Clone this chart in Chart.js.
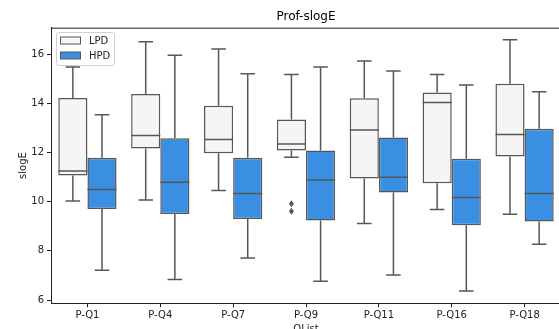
<!DOCTYPE html>
<html>
<head>
<meta charset="utf-8">
<script src="https://cdn.jsdelivr.net/npm/chart.js@4.4.1/dist/chart.umd.min.js"></script>
<style>
  html, body { margin: 0; padding: 0; overflow: hidden; background: #fff; }
  #wrap { position: absolute; left: 0; top: 0; }
</style>
</head>
<body>
<div id="wrap"><canvas id="chart" width="562" height="340"></canvas></div>
<script>
const categories = ["P-Q1", "P-Q4", "P-Q7", "P-Q9", "P-Q11", "P-Q16", "P-Q18"];
const yTicks = [6, 8, 10, 12, 14, 16];

// LPD box stats
const lpdLow = [10.03, 10.07, 10.45, 11.81, 9.11, 9.68, 9.49];
const lpdQ1 = [11.06, 12.16, 11.97, 12.08, 10.94, 10.75, 11.84];
const lpdMed = [11.25, 12.69, 12.53, 12.34, 12.91, 14.03, 12.73];
const lpdQ3 = [14.21, 14.38, 13.90, 13.34, 14.20, 14.44, 14.79];
const lpdHigh = [15.47, 16.50, 16.20, 15.17, 15.72, 15.17, 16.58];
const lpdOut = [[], [], [], [9.92, 9.61], [], [], []];

// HPD box stats
const hpdLow = [7.21, 6.84, 7.71, 6.77, 7.02, 6.37, 8.27];
const hpdQ1 = [9.70, 9.50, 9.30, 9.23, 10.37, 9.04, 9.19];
const hpdMed = [10.49, 10.79, 10.33, 10.88, 10.99, 10.17, 10.33];
const hpdQ3 = [11.78, 12.58, 11.79, 12.08, 12.61, 11.74, 12.96];
const hpdHigh = [13.53, 15.95, 15.20, 15.47, 15.31, 14.74, 14.47];
const hpdOut = [[], [], [], [], [], [], []];

const lineColor = "#575757";
const stats = [
  { low: lpdLow, med: lpdMed, high: lpdHigh, out: lpdOut },
  { low: hpdLow, med: hpdMed, high: hpdHigh, out: hpdOut }
];

Chart.defaults.font.family = "'DejaVu Sans', sans-serif";
Chart.defaults.font.size = 10;
Chart.defaults.color = "#222";

// whiskers, medians, fliers, top spine and legend
const boxPlugin = {
  id: "boxExtras",
  afterDatasetsDraw(chart) {
    const { ctx, chartArea, scales: { y } } = chart;
    ctx.save();
    ctx.strokeStyle = lineColor;
    ctx.fillStyle = lineColor;
    ctx.lineWidth = 1.5;
    stats.forEach((s, di) => {
      const meta = chart.getDatasetMeta(di);
      const range = chart.data.datasets[di].data;
      meta.data.forEach((bar, i) => {
        const x = bar.x;
        const w = bar.width;
        const yq1 = y.getPixelForValue(range[i][0]);
        const yq3 = y.getPixelForValue(range[i][1]);
        const yLow = y.getPixelForValue(s.low[i]);
        const yHigh = y.getPixelForValue(s.high[i]);
        const yMed = y.getPixelForValue(s.med[i]);
        ctx.beginPath();
        ctx.moveTo(x, yq3); ctx.lineTo(x, yHigh);
        ctx.moveTo(x, yq1); ctx.lineTo(x, yLow);
        ctx.moveTo(x - w / 4, yHigh); ctx.lineTo(x + w / 4, yHigh);
        ctx.moveTo(x - w / 4, yLow); ctx.lineTo(x + w / 4, yLow);
        ctx.moveTo(x - w / 2, yMed); ctx.lineTo(x + w / 2, yMed);
        ctx.stroke();
        s.out[i].forEach(v => {
          const py = y.getPixelForValue(v);
          ctx.beginPath();
          ctx.moveTo(x, py - 3.5);
          ctx.lineTo(x + 2.5, py);
          ctx.lineTo(x, py + 3.5);
          ctx.lineTo(x - 2.5, py);
          ctx.closePath();
          ctx.fill();
        });
      });
    });

    // top spine
    ctx.strokeStyle = "#222";
    ctx.lineWidth = 1;
    ctx.beginPath();
    ctx.moveTo(chartArea.left, chartArea.top + 0.5);
    ctx.lineTo(chartArea.right, chartArea.top + 0.5);
    ctx.stroke();

    // legend
    const lx = 56.5, ly = 32.5;
    ctx.fillStyle = "rgba(255,255,255,0.8)";
    ctx.strokeStyle = "#d0d0d0";
    ctx.beginPath();
    ctx.roundRect(lx, ly, 58, 33, 2);
    ctx.fill();
    ctx.stroke();
    chart.data.datasets.forEach((ds, di) => {
      const py = 37 + di * 15;
      ctx.fillStyle = ds.backgroundColor;
      ctx.strokeStyle = lineColor;
      ctx.lineWidth = 1;
      ctx.fillRect(60.5, py, 20, 7);
      ctx.strokeRect(60.5, py, 20, 7);
      ctx.fillStyle = "#222";
      ctx.font = "10px 'DejaVu Sans'";
      ctx.textBaseline = "middle";
      ctx.textAlign = "left";
      ctx.fillText(ds.label, 89, py + 4);
    });
    ctx.restore();
  }
};

new Chart(document.getElementById("chart"), {
  type: "bar",
  data: {
    labels: categories,
    datasets: [
      {
        label: "LPD",
        data: lpdQ1.map((v, i) => [v, lpdQ3[i]]),
        backgroundColor: "#f5f5f5",
        borderColor: lineColor,
        borderWidth: 1.5,
        borderSkipped: false
      },
      {
        label: "HPD",
        data: hpdQ1.map((v, i) => [v, hpdQ3[i]]),
        backgroundColor: "#3a8fe3",
        borderColor: lineColor,
        borderWidth: 1.5,
        borderSkipped: false
      }
    ]
  },
  options: {
    responsive: false,
    animation: false,
    devicePixelRatio: 1,
    categoryPercentage: 0.8,
    barPercentage: 1.0,
    layout: { padding: { top: 0, right: 1, left: 0, bottom: 0 } },
    plugins: {
      legend: { display: false },
      tooltip: { enabled: false },
      title: {
        display: true,
        text: "Prof-slogE",
        fullSize: false,
        color: "#000",
        font: { size: 12, weight: "normal" },
        padding: { top: 10, bottom: 3.3 }
      }
    },
    scales: {
      x: {
        grid: { offset: false, drawOnChartArea: false, drawTicks: true, tickLength: 4, tickColor: "#222" },
        border: { display: true, color: "#222", width: 1 },
        ticks: { padding: 2, maxRotation: 0 },
        title: { display: true, text: "QList", padding: { top: 0, bottom: 5 } },
        afterFit(s) { s.height = 36.7; }
      },
      y: {
        min: 5.87,
        max: 17.07,
        grid: { drawOnChartArea: false, drawTicks: true, tickLength: 4, tickColor: "#222" },
        border: { display: true, color: "#222", width: 1 },
        ticks: { padding: 3 },
        afterBuildTicks(s) { s.ticks = yTicks.map(v => ({ value: v })); },
        title: { display: true, text: "slogE", padding: { top: 17, bottom: 0 } },
        afterFit(s) { s.width = 51; }
      }
    }
  },
  plugins: [boxPlugin]
});
</script>
</body>
</html>
